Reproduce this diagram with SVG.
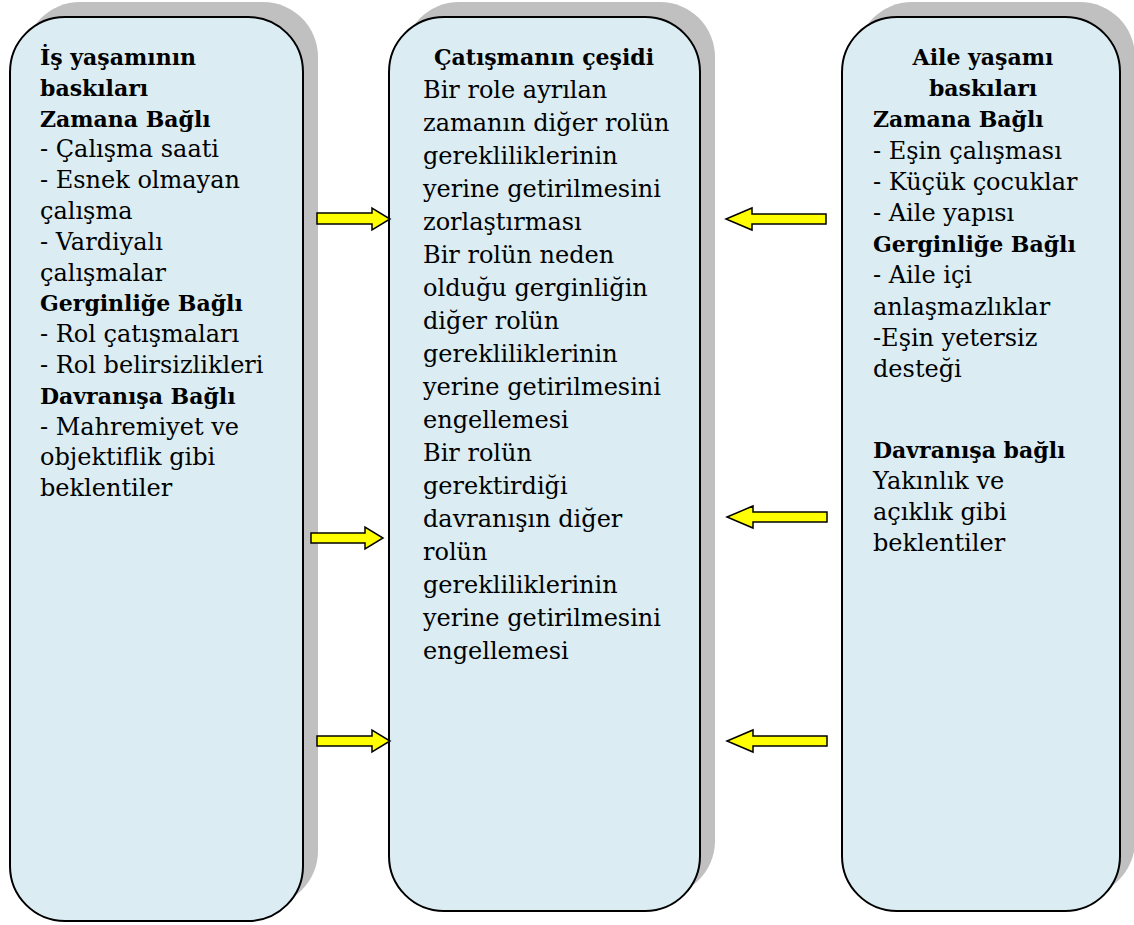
<svg xmlns="http://www.w3.org/2000/svg" width="1134" height="925" viewBox="0 0 1134 925">
<style>
.shadow{fill:#c0c0c0;stroke:none}
.box{fill:#dbedf3;stroke:#000;stroke-width:2}
.arrow{fill:#ffff00;stroke:#000;stroke-width:1.5;stroke-linejoin:miter}
text{font-family:"DejaVu Serif","Liberation Serif",serif;font-size:24px;fill:#000}
.b{font-weight:bold;font-size:22px}
</style>
<g id="node-work">
<rect class="shadow" x="25" y="2" width="293" height="904" rx="55" ry="55"/>
<rect class="box" x="10" y="17" width="293" height="904" rx="55" ry="55"/>
<text x="40" y="65" class="b">İş yaşamının</text>
<text x="40" y="96" class="b">baskıları</text>
<text x="40" y="127" class="b">Zamana Bağlı</text>
<text x="40" y="157">- Çalışma saati</text>
<text x="40" y="188">- Esnek olmayan</text>
<text x="40" y="219">çalışma</text>
<text x="40" y="250">- Vardiyalı</text>
<text x="40" y="281">çalışmalar</text>
<text x="40" y="311" class="b">Gerginliğe Bağlı</text>
<text x="40" y="342">- Rol çatışmaları</text>
<text x="40" y="373">- Rol belirsizlikleri</text>
<text x="40" y="404" class="b">Davranışa Bağlı</text>
<text x="40" y="435">- Mahremiyet ve</text>
<text x="40" y="465">objektiflik gibi</text>
<text x="40" y="496">beklentiler</text>
</g>
<g id="node-conflict">
<rect class="shadow" x="404" y="2" width="311" height="894" rx="55" ry="55"/>
<rect class="box" x="389" y="17" width="311" height="894" rx="55" ry="55"/>
<text x="544" y="65" class="b" text-anchor="middle">Çatışmanın çeşidi</text>
<text x="423" y="98">Bir role ayrılan</text>
<text x="423" y="131">zamanın diğer rolün</text>
<text x="423" y="164">gerekliliklerinin</text>
<text x="423" y="197">yerine getirilmesini</text>
<text x="423" y="230">zorlaştırması</text>
<text x="423" y="263">Bir rolün neden</text>
<text x="423" y="296">olduğu gerginliğin</text>
<text x="423" y="329">diğer rolün</text>
<text x="423" y="362">gerekliliklerinin</text>
<text x="423" y="395">yerine getirilmesini</text>
<text x="423" y="428">engellemesi</text>
<text x="423" y="461">Bir rolün</text>
<text x="423" y="494">gerektirdiği</text>
<text x="423" y="527">davranışın diğer</text>
<text x="423" y="560">rolün</text>
<text x="423" y="593">gerekliliklerinin</text>
<text x="423" y="626">yerine getirilmesini</text>
<text x="423" y="659">engellemesi</text>
</g>
<g id="node-family">
<rect class="shadow" x="857" y="2" width="278" height="894" rx="55" ry="55"/>
<rect class="box" x="842" y="17" width="278" height="894" rx="55" ry="55"/>
<text x="983" y="65" class="b" text-anchor="middle">Aile yaşamı</text>
<text x="983" y="96" class="b" text-anchor="middle">baskıları</text>
<text x="873" y="127" class="b">Zamana Bağlı</text>
<text x="873" y="159">- Eşin çalışması</text>
<text x="873" y="190">- Küçük çocuklar</text>
<text x="873" y="221">- Aile yapısı</text>
<text x="873" y="252" class="b">Gerginliğe Bağlı</text>
<text x="873" y="283">- Aile içi</text>
<text x="873" y="315">anlaşmazlıklar</text>
<text x="873" y="346">-Eşin yetersiz</text>
<text x="873" y="377">desteği</text>
<text x="873" y="458" class="b">Davranışa bağlı</text>
<text x="873" y="489">Yakınlık ve</text>
<text x="873" y="520">açıklık gibi</text>
<text x="873" y="551">beklentiler</text>
</g>
<g id="connectors">
<polygon class="arrow" points="317,213 372,213 372,208 390,219 372,230 372,224 317,224"/>
<polygon class="arrow" points="311,533 365,533 365,527 383,538 365,549 365,543 311,543"/>
<polygon class="arrow" points="317,736 372,736 372,730 390,741 372,752 372,746 317,746"/>
<polygon class="arrow" points="826,214 752,214 752,208 726,219 752,230 752,224 826,224"/>
<polygon class="arrow" points="827,512 753,512 753,506 727,517 753,528 753,522 827,522"/>
<polygon class="arrow" points="827,736 753,736 753,730 727,741 753,752 753,746 827,746"/>
</g>
</svg>
